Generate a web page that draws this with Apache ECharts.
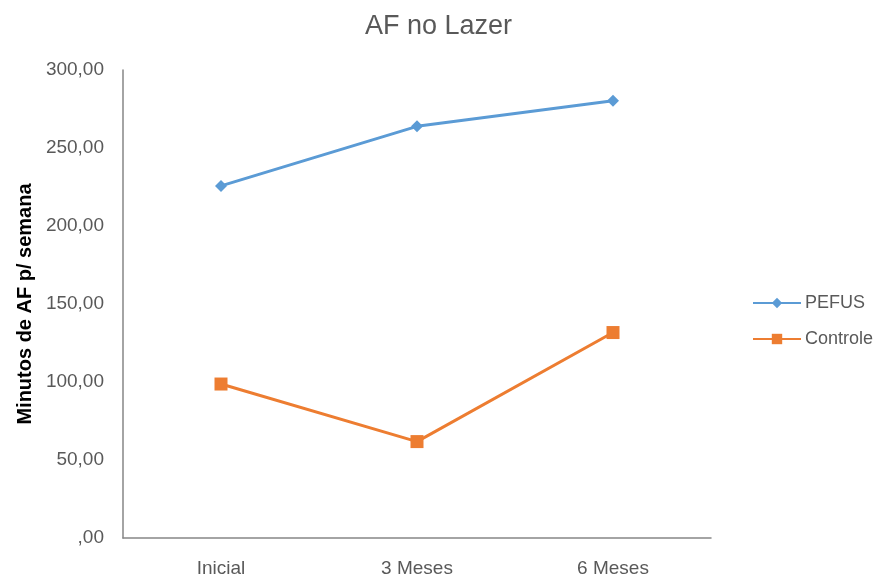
<!DOCTYPE html>
<html>
<head>
<meta charset="utf-8">
<script src="https://cdn.jsdelivr.net/npm/echarts@6/dist/echarts.min.js"></script>
<style>html,body{margin:0;padding:0;background:#fff}#chart{width:877px;height:578px}</style>
</head>
<body>
<div id="chart"></div>
<script>
const categories = ['Inicial', '3 Meses', '6 Meses'];
const pefus = [225.7, 263.9, 280.3];
const controle = [98.7, 61.8, 131.7];
const yTicks = [0, 50, 100, 150, 200, 250, 300];

const fmt = v => v === 0 ? ',00' : v.toFixed(2).replace('.', ',');
const font = 'Liberation Sans';
const chart = echarts.init(document.getElementById('chart'));
chart.setOption({
  backgroundColor: '#fff',
  animation: false,
  title: {
    text: 'AF no Lazer', left: 'center', top: 8,
    textStyle: { fontFamily: font, fontSize: 27, fontWeight: 'normal', color: '#595959' }
  },
  legend: {
    orient: 'vertical', left: 747, top: 289, itemGap: 18,
    itemWidth: 48, itemHeight: 13,
    textStyle: { fontFamily: font, fontSize: 18, color: '#595959', padding: [0, 0, 0, -1] },
    data: ['PEFUS', 'Controle']
  },
  grid: { left: 123, right: 166, top: 70, bottom: 36 },
  xAxis: {
    type: 'category', data: categories, boundaryGap: true,
    axisLine: { lineStyle: { color: '#868686', width: 1.5 } },
    axisTick: { show: false },
    axisLabel: { fontFamily: font, fontSize: 19, color: '#595959', margin: 21 }
  },
  yAxis: {
    type: 'value', min: yTicks[0], max: yTicks[yTicks.length - 1], interval: 50,
    name: 'Minutos de AF p/ semana', nameLocation: 'middle', nameGap: 83, nameRotate: 90,
    nameTextStyle: { fontFamily: font, fontSize: 20, fontWeight: 'bold', color: '#000' },
    axisLine: { show: true, lineStyle: { color: '#868686', width: 1.5 } },
    axisTick: { show: false },
    splitLine: { show: false },
    axisLabel: { fontFamily: font, fontSize: 19, color: '#595959', margin: 19, formatter: fmt }
  },
  series: [
    {
      name: 'PEFUS', type: 'line', data: pefus,
      symbol: 'diamond', symbolSize: 12,
      lineStyle: { color: '#5B9BD5', width: 3 },
      itemStyle: { color: '#5B9BD5' }
    },
    {
      name: 'Controle', type: 'line', data: controle,
      symbol: 'rect', symbolSize: 13,
      lineStyle: { color: '#ED7D31', width: 3 },
      itemStyle: { color: '#ED7D31' }
    }
  ]
});
</script>
</body>
</html>
